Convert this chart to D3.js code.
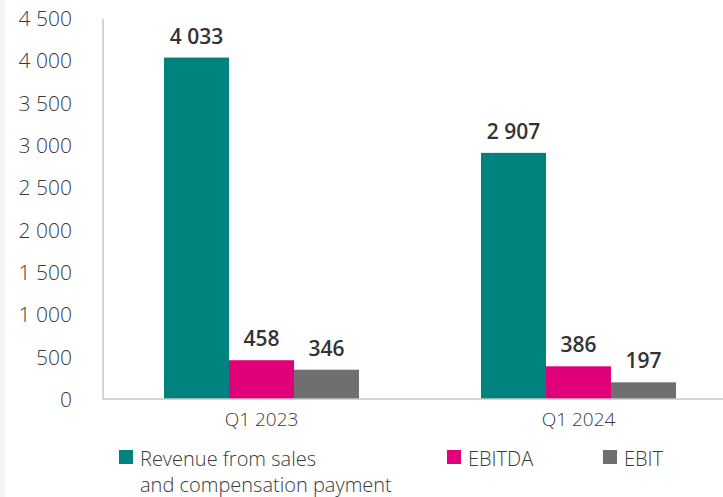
<!DOCTYPE html>
<html>
<head>
<meta charset="utf-8">
<script src="https://cdn.jsdelivr.net/npm/d3@7"></script>
<style>
  body { margin: 0; background: #fff; }
  #chart { width: 723px; height: 497px; }
  text { font-family: "Open Sans", sans-serif; }
</style>
</head>
<body>
<div id="chart"></div>
<script>
let categories = ["Q1 2023", "Q1 2024"];
let seriesNames = ["Revenue from sales\nand compensation payment", "EBITDA", "EBIT"];
let revenue = [4033, 2907];
let ebitda = [458, 386];
let ebit = [346, 197];
let yTicks = [0, 500, 1000, 1500, 2000, 2500, 3000, 3500, 4000, 4500];
let colors = ["#00827f", "#e2007a", "#6f6f6f"];

let seriesValues = [revenue, ebitda, ebit];

let svg = d3.select("#chart").append("svg")
    .attr("width", 723)
    .attr("height", 497);

// thin grey strip on the left edge
svg.append("rect")
    .attr("x", 0).attr("y", 0)
    .attr("width", 5).attr("height", 497)
    .attr("fill", "#f4f4f4");

let plotLeft = 103;
let plotTop = 18;
let plotBottom = 399;

let xScale = d3.scaleBand()
    .domain(categories)
    .range([plotLeft, 737])
    .paddingInner(0)
    .paddingOuter(0);

let yScale = d3.scaleLinear()
    .domain([0, 4500])
    .range([plotBottom, plotTop]);

// inner scale for the three series in each group
let groupWidth = 195;
let xInner = d3.scaleBand()
    .domain(d3.range(seriesValues.length))
    .range([0, groupWidth]);

let fmt = function(d) { return d3.format(",")(d).replace(/,/g, " "); };

// y tick labels
let yAxis = d3.axisLeft(yScale)
    .tickValues(yTicks)
    .tickSize(0)
    .tickPadding(31)
    .tickFormat(fmt);

let gy = svg.append("g")
    .attr("transform", "translate(" + plotLeft + ",0)")
    .call(yAxis);
gy.select(".domain").remove();
gy.selectAll("text")
    .attr("font-size", 21)
    .attr("fill", "#3a3a3a")
    .attr("font-weight", 300)
    .attr("dy", "0.35em");

// bars
categories.forEach(function(cat, ci) {
    let gx = xScale(cat) + (xScale.bandwidth() - groupWidth) / 2;
    seriesValues.forEach(function(vals, si) {
        let v = vals[ci];
        svg.append("rect")
            .attr("x", gx + xInner(si))
            .attr("y", yScale(v))
            .attr("width", xInner.bandwidth())
            .attr("height", plotBottom - yScale(v))
            .attr("fill", colors[si]);
        svg.append("text")
            .attr("x", gx + xInner(si) + xInner.bandwidth() / 2)
            .attr("y", yScale(v) - 14)
            .attr("text-anchor", "middle")
            .attr("font-size", 21)
            .attr("font-weight", 600)
            .attr("fill", "#333")
            .text(fmt(v));
    });
});

// axis lines
svg.append("line")
    .attr("x1", plotLeft).attr("x2", plotLeft)
    .attr("y1", plotTop + 1).attr("y2", plotBottom)
    .attr("stroke", "#c6c6c6").attr("stroke-width", 1.5);
svg.append("line")
    .attr("x1", plotLeft).attr("x2", 723)
    .attr("y1", plotBottom).attr("y2", plotBottom)
    .attr("stroke", "#c6c6c6").attr("stroke-width", 1.5);

// category labels
let xAxis = d3.axisBottom(xScale).tickSize(0).tickPadding(14);
let gxAxis = svg.append("g")
    .attr("transform", "translate(0," + plotBottom + ")")
    .call(xAxis);
gxAxis.select(".domain").remove();
gxAxis.selectAll("text")
    .attr("font-size", 19)
    .attr("font-weight", 300)
    .attr("fill", "#3a3a3a");

// legend
let legendX = [119, 447, 603];
let legend = svg.append("g");
seriesNames.forEach(function(name, i) {
    legend.append("rect")
        .attr("x", legendX[i])
        .attr("y", 450)
        .attr("width", 14)
        .attr("height", 14)
        .attr("fill", colors[i]);
    let t = legend.append("text")
        .attr("x", legendX[i] + 21)
        .attr("y", 466)
        .attr("font-size", 20)
        .attr("font-weight", 300)
        .attr("fill", "#3a3a3a");
    name.split("\n").forEach(function(line, li) {
        t.append("tspan")
            .attr("x", legendX[i] + 21)
            .attr("dy", li === 0 ? 0 : 26)
            .text(line);
    });
});
</script>
</body>
</html>
